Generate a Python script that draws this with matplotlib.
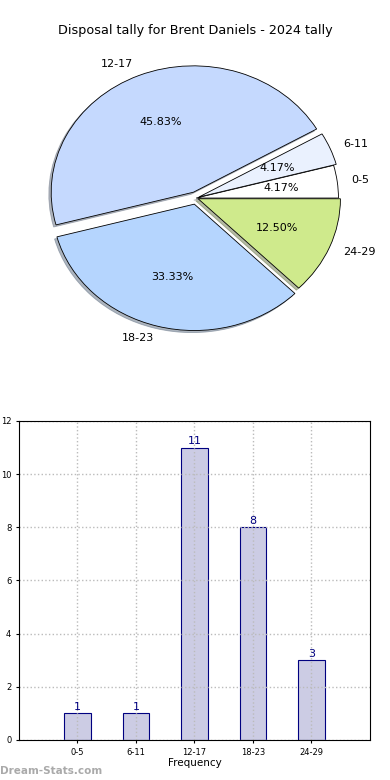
import matplotlib
matplotlib.use("Agg")
import matplotlib.pyplot as plt

# data
categories = ["0-5", "6-11", "12-17", "18-23", "24-29"]
counts = [1, 1, 11, 8, 3]
pie_colors = ["#ffffff", "#eaf1fe", "#c5d9fe", "#b5d5fe", "#cfea8c"]
explode = [0, 0.02, 0.05, 0.05, 0.015]

fig = plt.figure(figsize=(3.9, 7.8), dpi=100)

# pie chart
ax1 = fig.add_axes([0.047, 0.5436, 0.912, 0.405])
ax1.pie(counts, labels=categories, colors=pie_colors, explode=explode,
        autopct="%.2f%%", startangle=0,
        shadow={"ox": -0.012, "oy": -0.012, "shade": 0.5},
        wedgeprops={"edgecolor": "black", "linewidth": 0.6},
        textprops={"fontsize": 8})
ax1.set_aspect("auto")
ax1.set_xlim(-1.25, 1.25)
ax1.set_ylim(-1.25, 1.25)
fig.text(0.5, 0.961, "Disposal tally for Brent Daniels - 2024 tally",
         ha="center", va="center", fontsize=9.2)

# bar chart
ax2 = fig.add_axes([0.0487, 0.0513, 0.9, 0.409])
x = list(range(len(categories)))
bars = ax2.bar(x, counts, width=0.45, color="#ccccE4", edgecolor="navy", linewidth=0.8)
for xi, c in zip(x, counts):
    ax2.text(xi, c + 0.05, str(c), ha="center", va="bottom", color="navy", fontsize=8)
ax2.set_xlim(-1, 5)
ax2.set_ylim(0, 12)
ax2.set_xticks(x)
ax2.set_xticklabels(categories)
ax2.set_yticks(range(0, 13, 2))
ax2.tick_params(labelsize=6, length=2)
ax2.grid(True, linestyle=":", color="#bbbbbb", linewidth=1.0)
ax2.set_axisbelow(False)
for sp in ax2.spines.values():
    sp.set_zorder(5)
ax2.set_xlabel("Frequency", fontsize=7.5, labelpad=1)
ax2.set_ylabel("Disposal Tally", fontsize=7.5)

fig.text(0.0, 0.012, "Dream-Stats.com", color="#aaaaaa", fontsize=7.5,
         fontweight="bold", ha="left", va="center")

plt.savefig("out.png", dpi=100)
